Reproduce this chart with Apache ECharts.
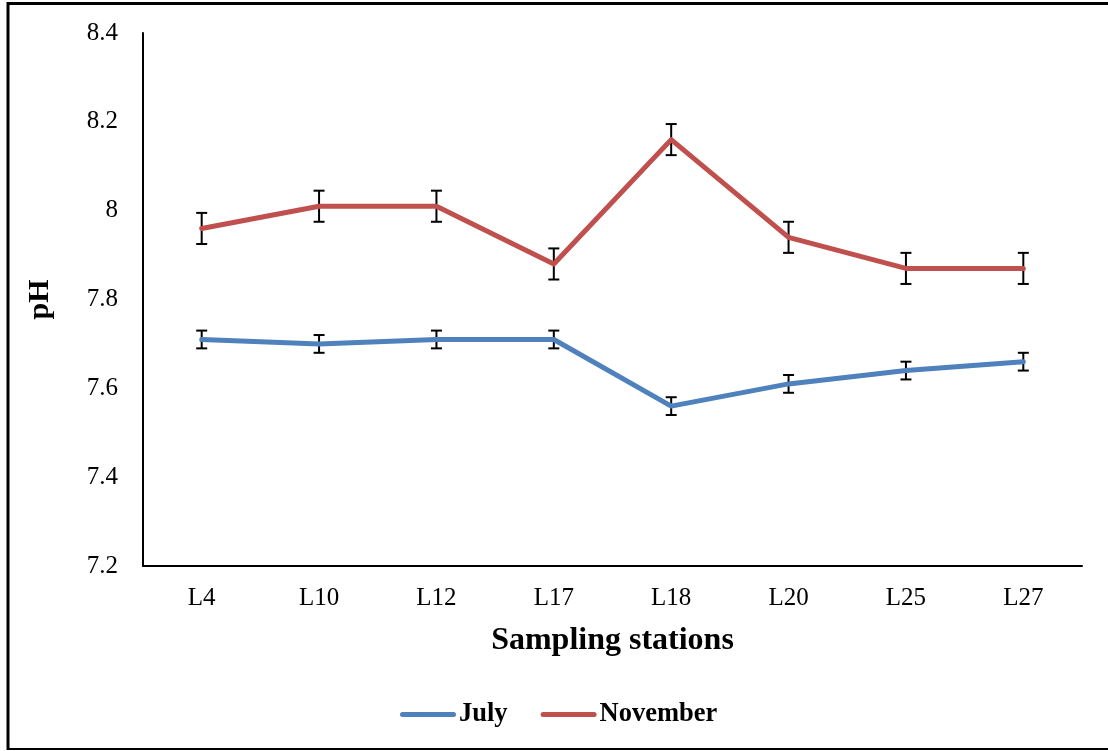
<!DOCTYPE html>
<html>
<head>
<meta charset="utf-8">
<script src="https://cdn.jsdelivr.net/npm/echarts@6/dist/echarts.min.js"></script>
<style>
  html, body { margin: 0; padding: 0; background: #fff; }
  #chart { width: 1108px; height: 751px; }
</style>
</head>
<body>
<div id="chart"></div>
<script>
// Sampling stations along the x axis
const stations = ['L4', 'L10', 'L12', 'L17', 'L18', 'L20', 'L25', 'L27'];
// Mean pH per station
const julyPH = [7.71, 7.70, 7.71, 7.71, 7.56, 7.61, 7.64, 7.66];
const novemberPH = [7.96, 8.01, 8.01, 7.88, 8.16, 7.94, 7.87, 7.87];
// Error bar half-lengths
const julyErr = [0.02, 0.02, 0.02, 0.02, 0.02, 0.02, 0.02, 0.02];
const novemberErr = [0.035, 0.035, 0.035, 0.035, 0.035, 0.035, 0.035, 0.035];
// Y axis range
const yMin = 7.2, yMax = 8.4, yStep = 0.2;

const serif = 'Liberation Serif, Times New Roman, serif';
// Rounded bar used as the legend key
const legendKey = 'path://M2.5,0 H53.5 A2.5,2.5 0 0 1 53.5,5 H2.5 A2.5,2.5 0 0 1 2.5,0 Z';

function errorData(values, errs) {
  return values.map((v, i) => [i, v - errs[i], v + errs[i]]);
}

function renderErrorBar(params, api) {
  const lo = api.coord([api.value(0), api.value(1)]);
  const hi = api.coord([api.value(0), api.value(2)]);
  const half = 5.5;
  const style = { stroke: '#000', lineWidth: 2, fill: null };
  return {
    type: 'group',
    children: [
      { type: 'line', shape: { x1: hi[0], y1: hi[1], x2: lo[0], y2: lo[1] }, style },
      { type: 'line', shape: { x1: hi[0] - half, y1: hi[1], x2: hi[0] + half, y2: hi[1] }, style },
      { type: 'line', shape: { x1: lo[0] - half, y1: lo[1], x2: lo[0] + half, y2: lo[1] }, style }
    ]
  };
}

const chart = echarts.init(document.getElementById('chart'), null, { renderer: 'canvas' });

chart.setOption({
  backgroundColor: '#fff',
  animation: false,
  graphic: [
    { type: 'line', shape: { x1: 8, y1: 3.5, x2: 1110, y2: 3.5 }, style: { stroke: '#000', lineWidth: 3 } },
    { type: 'line', shape: { x1: 8, y1: 2, x2: 8, y2: 750 }, style: { stroke: '#000', lineWidth: 3 } },
    { type: 'line', shape: { x1: 8, y1: 749, x2: 1110, y2: 749 }, style: { stroke: '#000', lineWidth: 2 } }
  ],
  grid: { left: 143, right: 26, top: 33, bottom: 185 },
  legend: {
    left: 395,
    top: 696,
    itemWidth: 56,
    itemHeight: 5,
    itemGap: 33,
    data: [
      { name: 'July', icon: legendKey },
      { name: 'November', icon: legendKey }
    ],
    textStyle: { fontFamily: serif, fontWeight: 'bold', fontSize: 26.5, color: '#000', padding: [0, 0, 0, -2] }
  },
  xAxis: {
    type: 'category',
    data: stations,
    boundaryGap: true,
    name: 'Sampling stations',
    nameLocation: 'middle',
    nameGap: 59,
    nameTextStyle: { fontFamily: serif, fontWeight: 'bold', fontSize: 32, color: '#000' },
    axisLine: { lineStyle: { color: '#000', width: 2 } },
    axisTick: { show: false },
    axisLabel: { fontFamily: serif, fontSize: 25, color: '#000', margin: 20 },
    splitLine: { show: false }
  },
  yAxis: {
    type: 'value',
    min: yMin,
    max: yMax,
    interval: yStep,
    name: 'pH',
    nameLocation: 'middle',
    nameGap: 88,
    nameRotate: 90,
    nameTextStyle: { fontFamily: serif, fontWeight: 'bold', fontSize: 30, color: '#000' },
    axisLine: { show: true, lineStyle: { color: '#000', width: 2 } },
    axisTick: { show: false },
    axisLabel: { fontFamily: serif, fontSize: 25, color: '#000', margin: 25 },
    splitLine: { show: false }
  },
  series: [
    {
      name: 'July',
      type: 'line',
      data: julyPH,
      symbol: 'none',
      color: '#4F81BD',
      lineStyle: { width: 5, color: '#4F81BD', cap: 'round', join: 'round' },
      z: 3
    },
    {
      name: 'November',
      type: 'line',
      data: novemberPH,
      symbol: 'none',
      color: '#C0504D',
      lineStyle: { width: 5, color: '#C0504D', cap: 'round', join: 'round' },
      z: 3
    },
    {
      type: 'custom',
      renderItem: renderErrorBar,
      data: errorData(julyPH, julyErr),
      encode: { x: 0, y: [1, 2] },
      z: 2,
      silent: true
    },
    {
      type: 'custom',
      renderItem: renderErrorBar,
      data: errorData(novemberPH, novemberErr),
      encode: { x: 0, y: [1, 2] },
      z: 2,
      silent: true
    }
  ]
});
</script>
</body>
</html>
